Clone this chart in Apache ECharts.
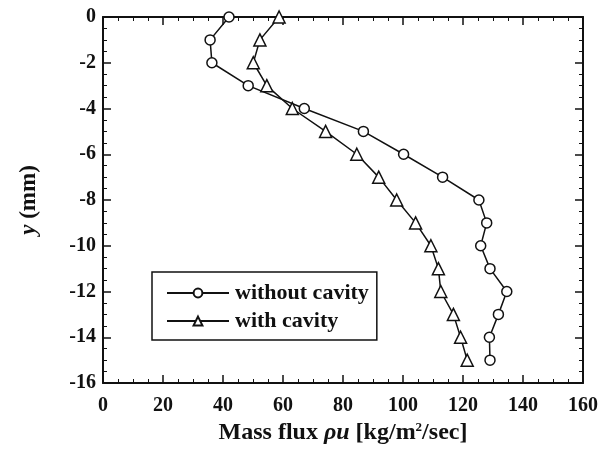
<!DOCTYPE html>
<html>
<head>
<meta charset="utf-8">
<script src="https://cdn.jsdelivr.net/npm/echarts@6/dist/echarts.min.js"></script>
<style>
  html, body { margin: 0; padding: 0; background: #fff; }
  #chart-container { width: 601px; height: 455px; }
</style>
</head>
<body>
<div id="chart-container"></div>
<script>
// y positions (mm) shared by both profiles
var yPositions = [0, -1, -2, -3, -4, -5, -6, -7, -8, -9, -10, -11, -12, -13, -14, -15];
// mass flux without cavity
var fluxWithout = [42, 35.7, 36.3, 48.4, 67.1, 86.8, 100.2, 113.2, 125.3, 127.9, 125.9, 129, 134.6, 131.8, 128.8, 129];
// mass flux with cavity
var fluxWith = [58.7, 52.3, 50.1, 54.6, 63.1, 74.2, 84.6, 91.9, 97.9, 104.2, 109.3, 111.8, 112.6, 116.8, 119.2, 121.4];

var seriesNames = ['without cavity', 'with cavity'];

function pairs(xs) {
    return xs.map(function (x, i) { return [x, yPositions[i]]; });
}

var font = 'Liberation Serif';
var black = '#111';

var myChart = echarts.init(document.getElementById('chart-container'));

var tickCommon = {
    axisLine: { show: true, onZero: false, lineStyle: { color: black, width: 2 } },
    axisTick: { show: true, inside: true, length: 8, lineStyle: { color: black, width: 1.5 } },
    minorTick: { show: true, splitNumber: 4, length: 4, lineStyle: { color: black, width: 1 } },
    splitLine: { show: false }
};

var option = {
    backgroundColor: '#fff',
    animation: false,
    grid: { left: 103, right: 18, top: 17, bottom: 72 },
    xAxis: [
        Object.assign({
            type: 'value', min: 0, max: 160, interval: 20, position: 'bottom',
            name: '{n|Mass flux }{i|ρu}{n| [kg/m}{s|2}{n|/sec]}',
            nameLocation: 'middle', nameGap: 36,
            nameTextStyle: {
                rich: {
                    n: { fontFamily: font, fontWeight: 'bold', fontSize: 24, color: black },
                    i: { fontFamily: font, fontWeight: 'bold', fontStyle: 'italic', fontSize: 24, color: black },
                    s: { fontFamily: font, fontWeight: 'bold', fontSize: 13, color: black, verticalAlign: 'top', padding: [0, 0, 10, 0] }
                }
            },
            axisLabel: { fontFamily: font, fontWeight: 'bold', fontSize: 20, color: black, margin: 13 }
        }, tickCommon),
        Object.assign({
            type: 'value', min: 0, max: 160, interval: 20, position: 'top',
            axisLabel: { show: false }
        }, tickCommon)
    ],
    yAxis: [
        Object.assign({
            type: 'value', min: -16, max: 0, interval: 2, position: 'left',
            name: '{i|y}{n| (mm)}',
            nameLocation: 'middle', nameGap: 62, nameRotate: 90,
            nameTextStyle: {
                rich: {
                    n: { fontFamily: font, fontWeight: 'bold', fontSize: 23, color: black },
                    i: { fontFamily: font, fontWeight: 'bold', fontStyle: 'italic', fontSize: 23, color: black }
                }
            },
            axisLabel: { fontFamily: font, fontWeight: 'bold', fontSize: 20, color: black, margin: 7 }
        }, tickCommon),
        Object.assign({
            type: 'value', min: -16, max: 0, interval: 2, position: 'right',
            axisLabel: { show: false }
        }, tickCommon)
    ],
    legend: {
        orient: 'vertical',
        left: 152, top: 272,
        padding: [10, 8, 8, 14],
        itemGap: 6,
        itemWidth: 62, itemHeight: 11,
        borderColor: black, borderWidth: 1.5,
        backgroundColor: '#fff',
        textStyle: { fontFamily: font, fontWeight: 'bold', fontSize: 22, color: black, padding: [0, 0, 0, 1] },
        data: seriesNames
    },
    series: [
        {
            name: seriesNames[0], type: 'line', data: pairs(fluxWithout),
            symbol: 'circle', symbolSize: 10,
            lineStyle: { color: black, width: 1.5 },
            itemStyle: { color: '#fff', borderColor: black, borderWidth: 1.5 }
        },
        {
            name: seriesNames[1], type: 'line', data: pairs(fluxWith),
            symbol: 'triangle', symbolSize: 12,
            lineStyle: { color: black, width: 1.5 },
            itemStyle: { color: '#fff', borderColor: black, borderWidth: 1.5 }
        }
    ]
};
myChart.setOption(option);
</script>
</body>
</html>
